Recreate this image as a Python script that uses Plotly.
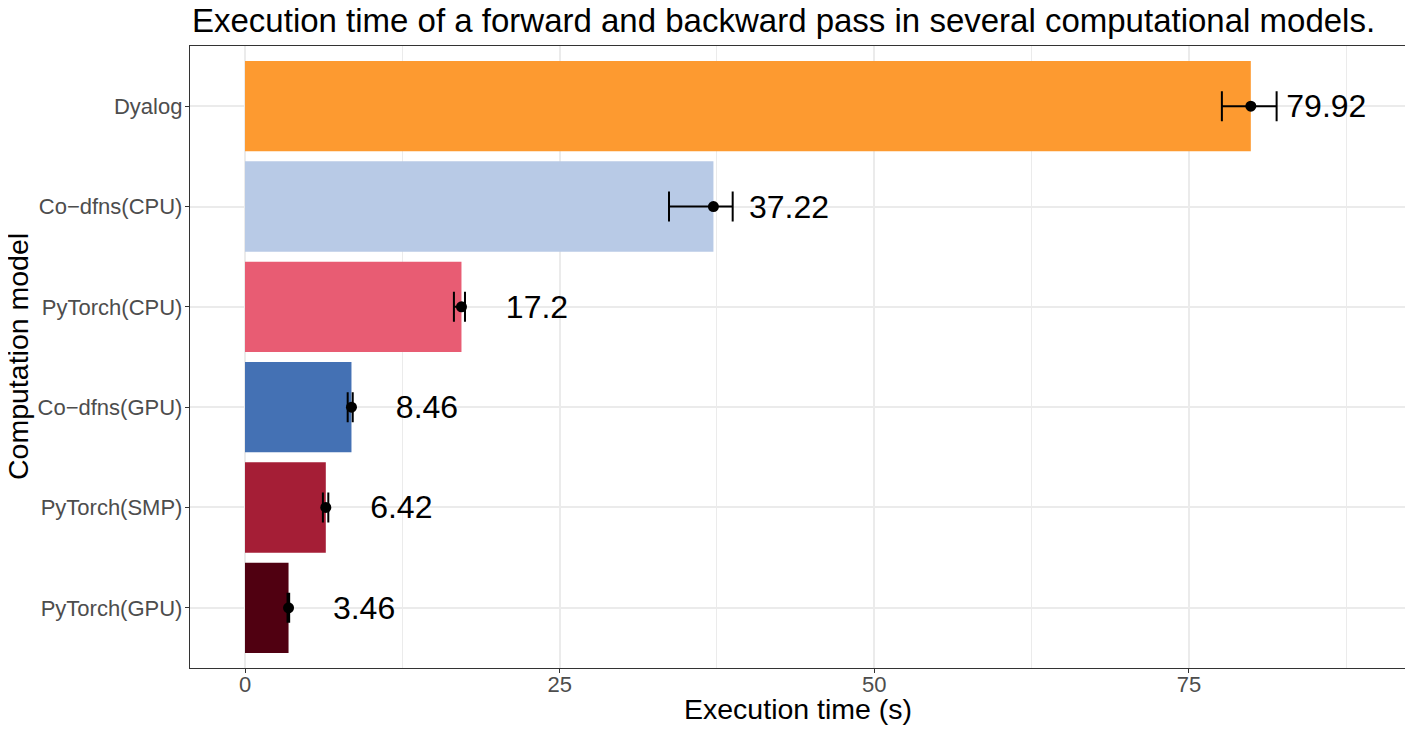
import plotly.graph_objects as go

models = ["PyTorch(GPU)", "PyTorch(SMP)", "Co−dfns(GPU)", "PyTorch(CPU)", "Co−dfns(CPU)", "Dyalog"]
times = [3.46, 6.42, 8.46, 17.2, 37.22, 79.92]
err_minus = [0.08, 0.23, 0.3, 0.6, 3.53, 2.3]
err_plus = [0.05, 0.2, 0.1, 0.28, 1.53, 2.05]
labels = ["3.46", "6.42", "8.46", "17.2", "37.22", "79.92"]
colors = ["#500011", "#A51E36", "#4471B4", "#E85C73", "#B8CAE6", "#FD9A30"]
label_offset = 6
label_drop = 0.03

# page has an 8px body margin, so the figure is made 8px smaller
W, H = 1405, 723
L, R, T, B = 182, 7, 38, 63
PW, PH = W - L - R, H - T - B

pos = list(range(len(models)))

fig = go.Figure()
fig.add_trace(go.Bar(
    y=pos, x=times, orientation="h",
    marker=dict(color=colors, line=dict(width=0)),
    width=0.9, showlegend=False, hoverinfo="skip",
))
fig.add_trace(go.Scatter(
    y=pos, x=times, mode="markers",
    marker=dict(color="black", size=11),
    error_x=dict(type="data", symmetric=False, array=err_plus, arrayminus=err_minus,
                 color="black", thickness=2, width=15),
    showlegend=False, hoverinfo="skip",
))
fig.add_trace(go.Scatter(
    y=[p - label_drop for p in pos], x=[t + label_offset for t in times], mode="text",
    text=labels, textposition="middle center",
    textfont=dict(family="Liberation Sans", size=32, color="black"),
    showlegend=False, hoverinfo="skip",
))

fig.update_layout(
    width=W, height=H,
    margin=dict(l=L, r=R, t=T, b=B),
    paper_bgcolor="white", plot_bgcolor="white",
    font=dict(family="Liberation Sans", color="black"),
    xaxis=dict(
        range=[-4.37, 92.25],
        tickvals=[0, 25, 50, 75],
        ticktext=["0", "25", "50", "75"],
        tickfont=dict(size=22, color="#4D4D4D"),
        ticks="outside", ticklen=4, tickcolor="#333333", tickwidth=1,
        ticklabelstandoff=-8,
        showgrid=True, gridcolor="#EBEBEB", gridwidth=1.5,
        minor=dict(tickvals=[12.5, 37.5, 62.5, 87.5], showgrid=True, gridcolor="#EBEBEB", gridwidth=1, ticks=""),
        zeroline=False, automargin=False,
        showline=True, linecolor="#333333", linewidth=1.3, mirror=True,
    ),
    yaxis=dict(
        range=[-0.6, 5.6],
        tickvals=pos, ticktext=models,
        tickfont=dict(size=22, color="#4D4D4D"),
        ticks="outside", ticklen=4, tickcolor="#333333", tickwidth=1,
        ticklabelstandoff=-2,
        showgrid=True, gridcolor="#EBEBEB", gridwidth=1.5,
        zeroline=False, automargin=False,
        showline=True, linecolor="#333333", linewidth=1.3, mirror=True,
    ),
    annotations=[
        dict(text="Execution time of a forward and backward pass in several computational models.",
             xref="paper", yref="paper", x=0, y=1 + (T + 8) / PH,
             xanchor="left", yanchor="top", showarrow=False,
             font=dict(size=33, color="black")),
        dict(text="Execution time (s)",
             xref="paper", yref="paper", x=0.5, y=-(683 - (H - B)) / PH,
             xanchor="center", yanchor="top", showarrow=False,
             font=dict(size=28.5, color="black")),
        dict(text="Computation model",
             xref="paper", yref="paper", x=(10 - L) / PW, y=0.5,
             xanchor="center", yanchor="middle", textangle=-90, showarrow=False,
             font=dict(size=28.5, color="black")),
    ],
)

fig.write_html("out.html")
